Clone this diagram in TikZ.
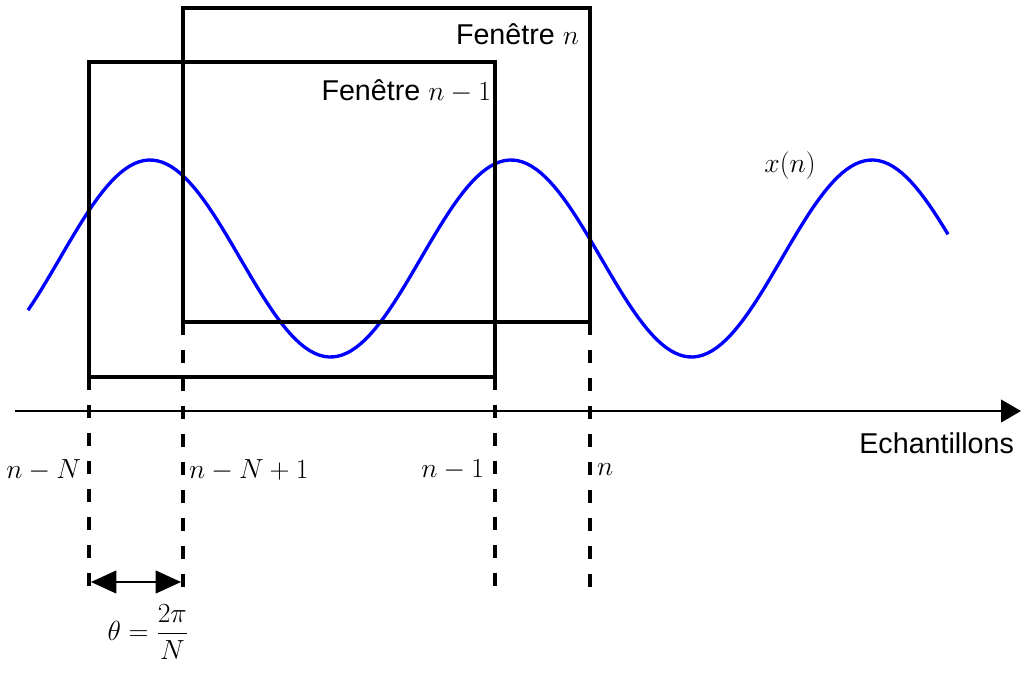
\documentclass[tikz,border=0pt]{standalone}
\usepackage{amsmath}
\usepackage{fontspec}
\setmainfont{Liberation Sans}
\usetikzlibrary{arrows.meta}

\begin{document}
\begin{tikzpicture}[x=0.75pt,y=-0.75pt,line width=2.6pt,
  guide/.style={line width=2.8pt,dash pattern=on 10pt off 11pt},
  lbl/.style={inner sep=1pt,font=\fontsize{21.5}{25}\selectfont}]
\path[use as bounding box] (0,0) rectangle (1023,677);
% axe des echantillons
\coordinate (ax0) at (15,411);
\coordinate (ax1) at (1021,411);
\draw[line width=1.6pt,-{Triangle[length=15pt,width=17pt]}] (ax0) -- (ax1);
\node[lbl,anchor=north east] (ech) at (1017,430) {Echantillons};
% signal
\draw[blue,line width=2.5pt,domain=28:948,samples=200] plot (\x,{258.5-98.5*cos((\x-150)/361*360)});
\node[lbl,anchor=center] (xn) at (790,166) {$x(n)$};
% fenetres
\coordinate (w1a) at (89,62);
\coordinate (w1b) at (495,377);
\coordinate (w2a) at (183,8);
\coordinate (w2b) at (590,322);
\draw (w1a) rectangle (w1b);
\draw (w2a) rectangle (w2b);
\node[lbl,anchor=north east] (fen2) at (582,21) {Fenêtre $n$};
\node[lbl,anchor=north east] (fen1) at (494,77) {Fenêtre $n-1$};
% reperes
\coordinate (d1) at (89,597);
\coordinate (d2) at (183,597);
\coordinate (d3) at (495,600);
\coordinate (d4) at (590,600);
\draw[guide] (89,377) -- (d1);
\draw[guide] (183,322) -- (d2);
\draw[guide] (495,377) -- (d3);
\draw[guide] (590,322) -- (d4);
\node[lbl,anchor=east] (lab1) at (84,470) {$n-N$};
\node[lbl,anchor=west] (lab2) at (186,470) {$n-N+1$};
\node[lbl,anchor=east] (lab3) at (487,470) {$n-1$};
\node[lbl,anchor=west] (lab4) at (594,470) {$n$};
% ecart angulaire
\coordinate (t1) at (91,582);
\coordinate (t2) at (181,582);
\draw[line width=1.6pt,{Triangle[length=19pt,width=17pt]}-{Triangle[length=19pt,width=17pt]}] (t1) -- (t2);
\node[lbl,anchor=center] (theta) at (148,632) {$\theta=\dfrac{2\pi}{N}$};
\end{tikzpicture}
\end{document}
